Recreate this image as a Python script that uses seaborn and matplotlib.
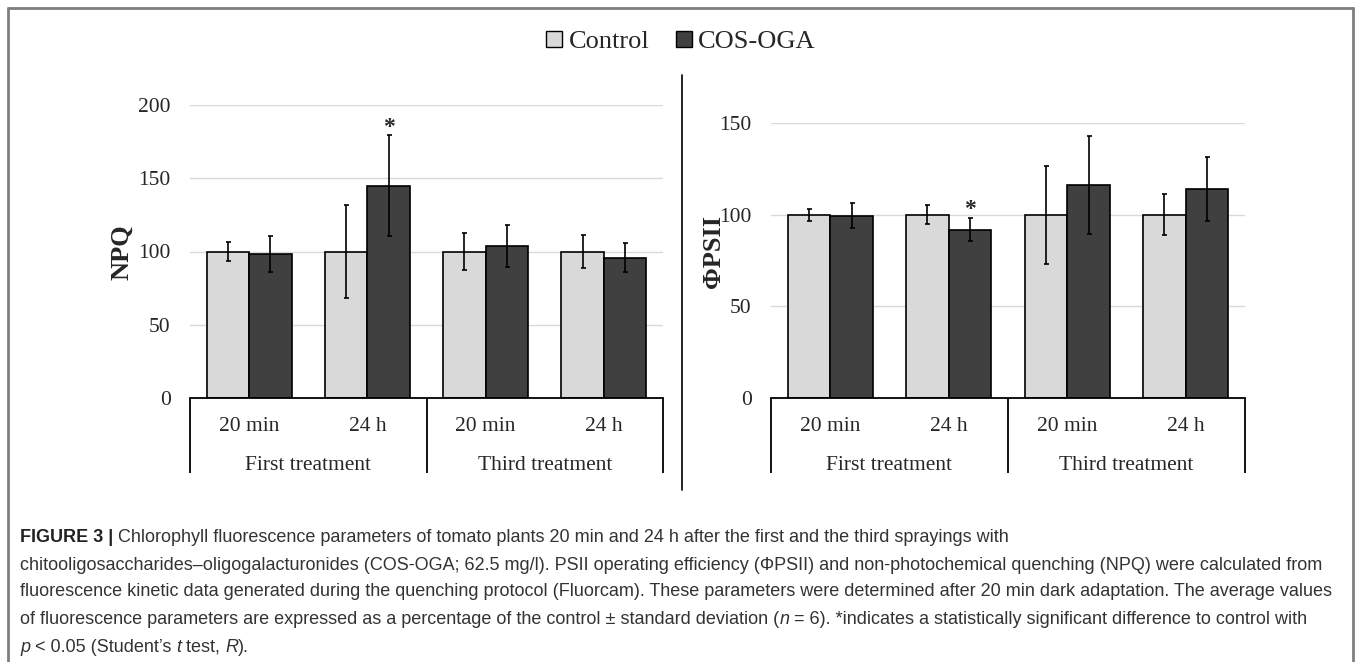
import numpy as np
import pandas as pd
import matplotlib
matplotlib.use("Agg")
import matplotlib.pyplot as plt
import seaborn as sns
from matplotlib.patches import Patch
from matplotlib.lines import Line2D

# ---------------- data ----------------
conditions = ["First 20 min", "First 24 h", "Third 20 min", "Third 24 h"]
tick_labels = ["20 min", "24 h", "20 min", "24 h"]
group_labels = ["First treatment", "Third treatment"]
series = ["Control", "COS-OGA"]

npq_control = [100, 100, 100, 100]
npq_control_sd = [6.7, 31.4, 12.6, 11.6]
npq_cos = [98.2, 144.8, 103.6, 95.9]
npq_cos_sd = [12.3, 34.4, 14.4, 9.7]
npq_signif = [False, True, False, False]

psii_control = [100, 100, 100, 100]
psii_control_sd = [3.3, 5.0, 26.7, 11.3]
psii_cos = [99.5, 91.8, 116.2, 114.0]
psii_cos_sd = [6.7, 6.3, 26.7, 17.4]
psii_signif = [False, True, False, False]

npq_ticks = [0, 50, 100, 150, 200]
psii_ticks = [0, 50, 100, 150]

colors = ["#d9d9d9", "#404040"]

caption_lines = [
    [("FIGURE 3 | ", "bold"), ("Chlorophyll fluorescence parameters of tomato plants 20 min and 24 h after the first and the third sprayings with", "normal")],
    [("chitooligosaccharides\u2013oligogalacturonides (COS-OGA; 62.5 mg/l). PSII operating efficiency (\u03a6PSII) and non-photochemical quenching (NPQ) were calculated from", "normal")],
    [("fluorescence kinetic data generated during the quenching protocol (Fluorcam). These parameters were determined after 20 min dark adaptation. The average values", "normal")],
    [("of fluorescence parameters are expressed as a percentage of the control \u00b1 standard deviation (", "normal"), ("n", "italic"),
     (" = 6). *indicates a statistically significant difference to control with", "normal")],
    [("p", "italic"), (" < 0.05 (Student\u2019s ", "normal"), ("t", "italic"), (" test, ", "normal"), ("R", "italic"), (").", "normal")],
]

# ---------------- figure ----------------
sns.set_theme(style="white")
plt.rcParams["font.family"] = ["Liberation Serif", "DejaVu Serif"]

W, H = 1357, 662
fig = plt.figure(figsize=(W / 100, H / 100), dpi=100)
fig.patch.set_facecolor("white")

LABEL_FS = 15.5


def px_axes(x0, x1, ytop, ybot):
    return fig.add_axes([x0 / W, (H - ybot) / H, (x1 - x0) / W, (ybot - ytop) / H])


def make_panel(ax, ctrl, ctrl_sd, cos, cos_sd, signif, ticks, ylabel, ylabel_x, ylabel_y, axh_px):
    df = pd.DataFrame({
        "cond": conditions * 2,
        "series": [series[0]] * 4 + [series[1]] * 4,
        "value": list(ctrl) + list(cos),
    })
    sns.barplot(data=df, x="cond", y="value", hue="series", order=conditions,
                hue_order=series, palette=colors, width=0.72, edgecolor="black",
                linewidth=1.2, errorbar=None, ax=ax, legend=False, saturation=1)
    sds = [ctrl_sd, cos_sd]
    bar_conts = list(ax.containers)
    tops = []
    for i, cont in enumerate(bar_conts):
        xs = [b.get_x() + b.get_width() / 2 for b in cont]
        hs = [b.get_height() for b in cont]
        ax.errorbar(xs, hs, yerr=sds[i], fmt="none", ecolor="black",
                    elinewidth=1.2, capsize=1.8, capthick=1.2, zorder=5)
        tops.append([(x, h + s) for x, h, s in zip(xs, hs, sds[i])])
    for j, sig in enumerate(signif):
        if sig:
            x, top = tops[1][j]
            ax.annotate("*", xy=(x, top), xytext=(0, -1.5), textcoords="offset points",
                        ha="center", va="bottom", fontsize=17, fontweight="bold")
    ax.set_ylim(ticks[0], ticks[-1])
    ax.set_xlim(-0.5, 3.5)
    ax.set_yticks(ticks)
    ax.set_yticklabels([str(t) for t in ticks], fontsize=LABEL_FS)
    ax.tick_params(axis="y", length=0, pad=14)
    ax.yaxis.grid(True, color="#d9d9d9", linewidth=1)
    ax.set_axisbelow(True)
    for s in ["left", "right", "top"]:
        ax.spines[s].set_visible(False)
    ax.spines["bottom"].set_color("black")
    ax.spines["bottom"].set_linewidth(1.3)
    ax.set_xlabel("")
    ax.set_ylabel("")
    ax.set_xticks(range(4))
    ax.set_xticklabels(tick_labels, fontsize=LABEL_FS)
    ax.tick_params(axis="x", length=0, pad=14)
    trans = ax.get_xaxis_transform()
    for gi, gl in enumerate(group_labels):
        ax.annotate(gl, xy=(0.5 + 2 * gi, 0), xycoords=trans, xytext=(0, -68 * 0.72),
                    textcoords="offset points", ha="center", va="center", fontsize=LABEL_FS)
    for xv in [-0.5, 1.5, 3.5]:
        ax.plot([xv, xv], [0, -75 / axh_px], transform=trans, color="black",
                linewidth=1.3, clip_on=False, solid_capstyle="butt")
    fig.text(ylabel_x / W, 1 - ylabel_y / H, ylabel, rotation=90, ha="center",
             va="center", fontsize=19, fontweight="bold")


ax1 = px_axes(190, 663, 105, 398)
make_panel(ax1, npq_control, npq_control_sd, npq_cos, npq_cos_sd, npq_signif,
           npq_ticks, "NPQ", 122, 252, 293)

ax2 = px_axes(771, 1245, 123, 398)
make_panel(ax2, psii_control, psii_control_sd, psii_cos, psii_cos_sd, psii_signif,
           psii_ticks, "\u03a6PSII", 713, 252, 275)

# separator
fig.add_artist(Line2D([682 / W, 682 / W], [1 - 75 / H, 1 - 490 / H], color="black", linewidth=1.2))

# frame (open at bottom)
fc = "#7f7f7f"
fig.add_artist(Line2D([8 / W, 1353 / W], [1 - 8 / H, 1 - 8 / H], color=fc, linewidth=2))
fig.add_artist(Line2D([8 / W, 8 / W], [1 - 8 / H, 0], color=fc, linewidth=2))
fig.add_artist(Line2D([1353 / W, 1353 / W], [1 - 8 / H, 0], color=fc, linewidth=2))

# legend
handles = [Patch(facecolor=c, edgecolor="black", linewidth=1.0) for c in colors]
fig.legend(handles, series, loc="center", bbox_to_anchor=(681 / W, 1 - 42 / H), ncol=2,
           frameon=False, fontsize=19, handlelength=0.6, handleheight=0.6,
           handletextpad=0.25, columnspacing=1.0, borderaxespad=0)

# caption
renderer = fig.canvas.get_renderer()
cap_family = ["Liberation Sans", "DejaVu Sans"]
probe = fig.text(0, 0, "".join(t for t, _ in caption_lines[2]), fontsize=10, family=cap_family)
wprobe = probe.get_window_extent(renderer).width
probe.remove()
cap_fs = 10 * 1313 / wprobe
line_y = [537, 565, 592, 620, 647]
for runs, yy in zip(caption_lines, line_y):
    x = 20
    for txt, style in runs:
        kw = dict(fontsize=cap_fs, family=cap_family, va="center", ha="left", color="#333333")
        if style == "bold":
            kw["fontweight"] = "bold"
            kw["color"] = "#222222"
        elif style == "italic":
            kw["fontstyle"] = "italic"
        t = fig.text(x / W, 1 - yy / H, txt, **kw)
        x += t.get_window_extent(renderer).width

fig.savefig("out.png", dpi=100, facecolor="white")
